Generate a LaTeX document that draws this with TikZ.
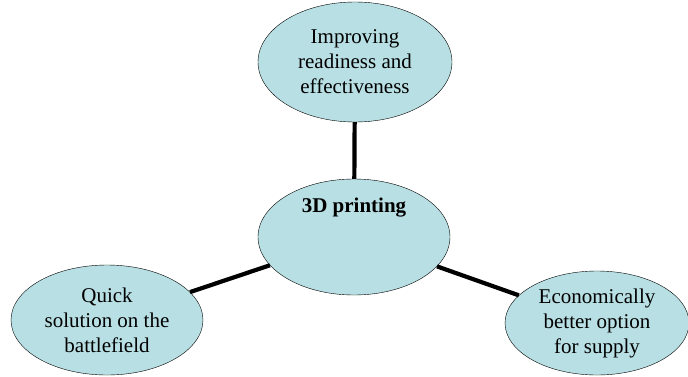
\documentclass[tikz,border=0pt]{standalone}
\usepackage{fontspec}
\setmainfont{Liberation Serif}
\usepackage{tikz}
\usetikzlibrary{shapes.geometric}
\usepackage{xcolor}
\definecolor{bubblecyan}{RGB}{184,223,227}
\tikzset{
    bubble/.style={ellipse, draw=black, fill=bubblecyan, thin, inner sep=0pt, align=center,
        font=\fontsize{21}{25}\selectfont},
    link/.style={draw=black, line width=4.2pt}
}
\begin{document}
\begin{tikzpicture}[x=1pt, y=1pt]
    \useasboundingbox (0,0) rectangle (688,376);
    % bubbles
    \node[bubble, minimum width=194, minimum height=120] (ready) at (355,314) {Improving\\readiness and\\effectiveness};
    \node[bubble, minimum width=192, minimum height=116] (hub) at (354,139) {};
    \node[font=\fontsize{21}{25}\selectfont\bfseries] (hubtext) at (354,168) {3D printing};
    \node[bubble, minimum width=192, minimum height=110] (quick) at (107,56) {Quick\\solution on the\\battlefield};
    \node[bubble, minimum width=184, minimum height=104] (supply) at (597,53) {Economically\\better option\\for supply};
    % links
    \draw[link] (ready) -- (hub);
    \draw[link] (hub) -- (quick);
    \draw[link] (hub) -- (supply);
\end{tikzpicture}
\end{document}
